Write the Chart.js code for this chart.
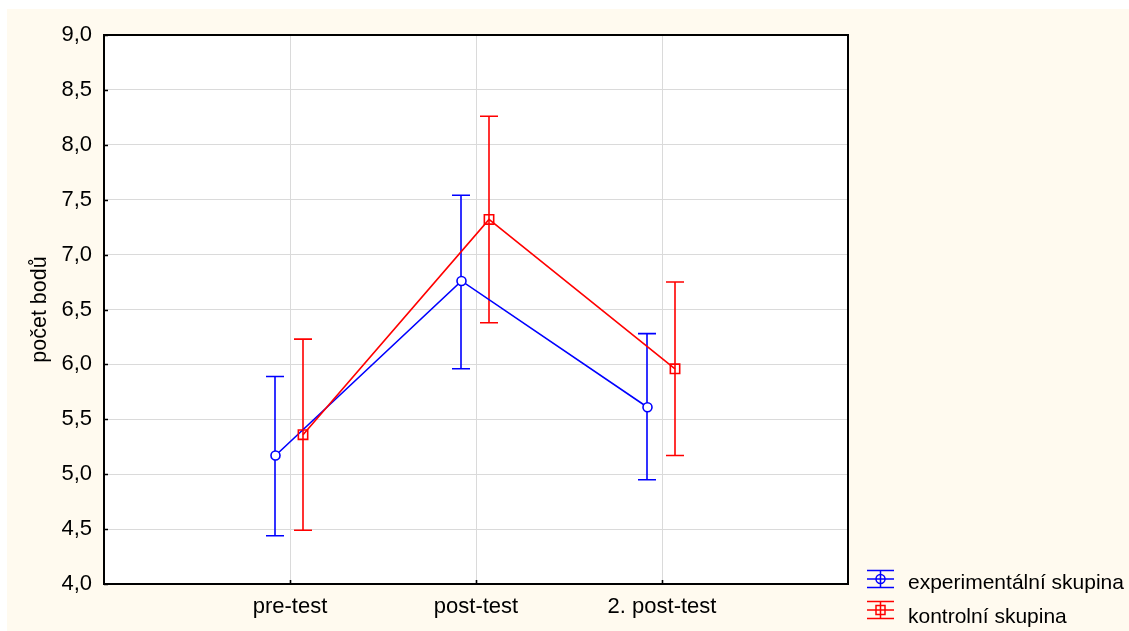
<!DOCTYPE html>
<html>
<head>
<meta charset="utf-8">
<script src="https://cdn.jsdelivr.net/npm/chart.js@4.4.1/dist/chart.umd.min.js"></script>
<style>
html,body{margin:0;padding:0;background:#fff;}
#wrap{position:absolute;left:0;top:0;width:1129px;height:631px;}
</style>
</head>
<body>
<div id="wrap"><canvas id="c"></canvas></div>
<script>
const categories = ['pre-test', 'post-test', '2. post-test'];
const seriesNames = ['experimentální skupina', 'kontrolní skupina'];
const expMean = [5.17, 6.76, 5.61];
const expLow  = [4.44, 5.96, 4.95];
const expHigh = [5.89, 7.54, 6.28];
const ctrlMean = [5.36, 7.32, 5.96];
const ctrlLow  = [4.49, 6.38, 5.17];
const ctrlHigh = [6.23, 8.26, 6.75];
const yTicks = [4.0, 4.5, 5.0, 5.5, 6.0, 6.5, 7.0, 7.5, 8.0, 8.5, 9.0];
const yTitle = 'počet bodů';

const BLUE = '#0000FF', RED = '#FF0000';
const FONT = '"Liberation Sans", Arial, sans-serif';
const OFF_EXP = -0.078, OFF_CTRL = 0.07;

function pts(means, off) { return means.map((m, i) => ({x: i + 1 + off, y: m})); }

const errorData = [
  {low: expLow, high: expHigh, off: OFF_EXP, color: BLUE},
  {low: ctrlLow, high: ctrlHigh, off: OFF_CTRL, color: RED}
];

const bgPlugin = {
  id: 'bg',
  beforeDraw(chart) {
    const {ctx, width, height, chartArea: a} = chart;
    ctx.save();
    ctx.fillStyle = '#ffffff';
    ctx.fillRect(0, 0, width, height);
    ctx.fillStyle = '#FFFAEF';
    ctx.fillRect(7, 9, width - 7, height - 9);
    ctx.fillStyle = '#ffffff';
    ctx.fillRect(a.left, a.top, a.right - a.left, a.bottom - a.top);
    ctx.restore();
  }
};

const errPlugin = {
  id: 'err',
  beforeDatasetsDraw(chart) {
    const {ctx, scales: {x, y}} = chart;
    ctx.save();
    ctx.lineWidth = 1.6;
    errorData.forEach(s => {
      ctx.strokeStyle = s.color;
      s.low.forEach((lo, i) => {
        const px = Math.round(x.getPixelForValue(i + 1 + s.off));
        const yl = y.getPixelForValue(lo), yh = y.getPixelForValue(s.high[i]);
        ctx.beginPath();
        ctx.moveTo(px, yl); ctx.lineTo(px, yh);
        ctx.moveTo(px - 9, yl); ctx.lineTo(px + 9, yl);
        ctx.moveTo(px - 9, yh); ctx.lineTo(px + 9, yh);
        ctx.stroke();
      });
    });
    ctx.restore();
  }
};

const framePlugin = {
  id: 'frame',
  afterDraw(chart) {
    const {ctx, chartArea: a, scales: {x, y}} = chart;
    ctx.save();
    ctx.strokeStyle = '#000';
    ctx.lineWidth = 1.6;
    ctx.beginPath();
    yTicks.forEach(v => {
      const py = Math.round(y.getPixelForValue(v)) + 0.5;
      ctx.moveTo(a.left, py); ctx.lineTo(a.left + 4, py);
    });
    categories.forEach((c, i) => {
      const px = Math.round(x.getPixelForValue(i + 1)) + 0.5;
      ctx.moveTo(px, a.bottom); ctx.lineTo(px, a.bottom - 4);
    });
    ctx.stroke();
    ctx.lineWidth = 2;
    ctx.strokeRect(a.left, a.top, a.right - a.left, a.bottom - a.top);

    const items = [
      {name: seriesNames[0], color: BLUE, style: 'circle', yc: 579, ty: 583},
      {name: seriesNames[1], color: RED, style: 'rect', yc: 610, ty: 617}
    ];
    ctx.font = '21px ' + FONT;
    ctx.textBaseline = 'middle';
    ctx.textAlign = 'left';
    items.forEach(it => {
      ctx.strokeStyle = it.color;
      ctx.lineWidth = 1.5;
      ctx.beginPath();
      ctx.moveTo(867, it.yc - 8.5); ctx.lineTo(894, it.yc - 8.5);
      ctx.moveTo(867, it.yc); ctx.lineTo(894, it.yc);
      ctx.moveTo(867, it.yc + 8.5); ctx.lineTo(894, it.yc + 8.5);
      ctx.moveTo(880.5, it.yc - 8.5); ctx.lineTo(880.5, it.yc + 8.5);
      ctx.stroke();
      ctx.beginPath();
      if (it.style === 'circle') ctx.arc(880.5, it.yc, 4.5, 0, Math.PI * 2);
      else ctx.rect(876, it.yc - 4.5, 9, 9);
      ctx.stroke();
      ctx.fillStyle = '#000';
      ctx.fillText(it.name, 908, it.ty);
    });
    ctx.restore();
  }
};

new Chart(document.getElementById('c'), {
  type: 'line',
  data: {
    datasets: [
      {
        label: seriesNames[0], data: pts(expMean, OFF_EXP),
        borderColor: BLUE, borderWidth: 1.6, pointStyle: 'circle', pointRadius: 4.5,
        pointBorderColor: BLUE, pointBackgroundColor: '#fff', pointBorderWidth: 1.6,
        fill: false, tension: 0, order: 2
      },
      {
        label: seriesNames[1], data: pts(ctrlMean, OFF_CTRL),
        borderColor: RED, borderWidth: 1.6, pointStyle: 'rect', pointRadius: 6.6,
        pointBorderColor: RED, pointBackgroundColor: 'rgba(255,255,255,0)', pointBorderWidth: 1.6,
        fill: false, tension: 0, order: 1
      }
    ]
  },
  options: {
    responsive: true, maintainAspectRatio: false, animation: false, devicePixelRatio: 1,
    layout: {padding: {left: 0, top: 35, right: 281, bottom: 0}},
    plugins: {legend: {display: false}, tooltip: {enabled: false}},
    scales: {
      x: {
        type: 'linear', min: 0, max: 4,
        afterFit(s) { s.height = 47; },
        afterBuildTicks(s) { s.ticks = [0, 1, 2, 3, 4].map(v => ({value: v})); },
        border: {display: false},
        grid: {
          drawTicks: false,
          color: c => (c.tick && (c.tick.value === 0 || c.tick.value === 4)) ? 'rgba(0,0,0,0)' : '#dadada',
          lineWidth: 1
        },
        ticks: {
          autoSkip: false, maxRotation: 0, padding: 10, color: '#000',
          font: {family: FONT, size: 22},
          callback: v => categories[v - 1] || ''
        }
      },
      y: {
        min: 4, max: 9,
        afterFit(s) { s.width = 104; },
        afterBuildTicks(s) { s.ticks = yTicks.map(v => ({value: v})); },
        border: {display: false},
        grid: {drawTicks: false, color: '#dadada', lineWidth: 1},
        ticks: {
          padding: 12, color: '#000', font: {family: FONT, size: 22},
          callback: v => v.toFixed(1).replace('.', ',')
        },
        title: {
          display: true, text: yTitle, color: '#000',
          font: {family: FONT, size: 21.5}, padding: {top: 27, bottom: 0}
        }
      }
    }
  },
  plugins: [bgPlugin, errPlugin, framePlugin]
});
</script>
</body>
</html>
